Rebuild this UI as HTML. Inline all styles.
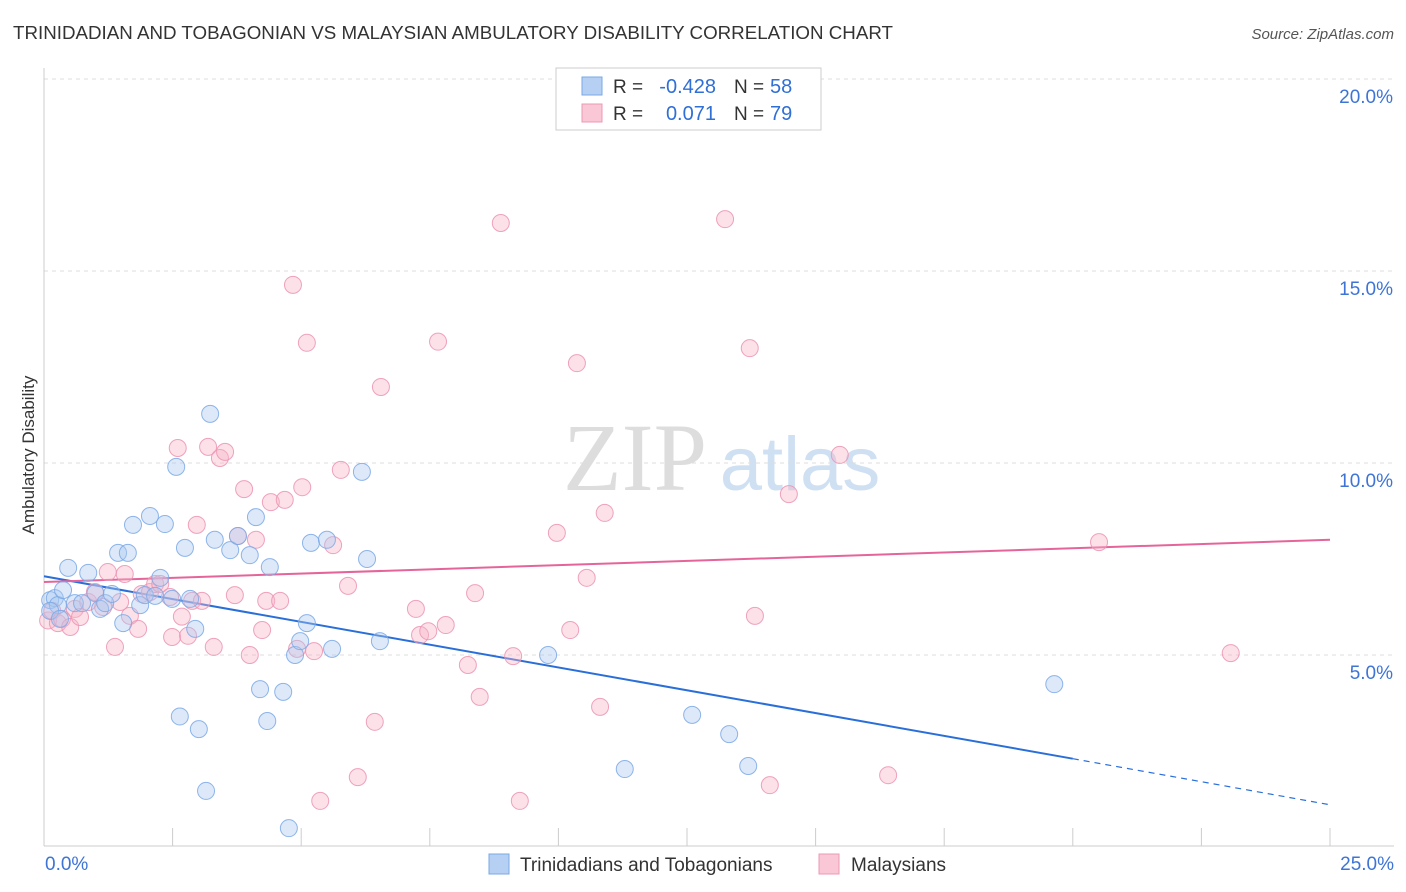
<!DOCTYPE html>
<html><head><meta charset="utf-8"><style>
body{margin:0;background:#fff;font-family:"Liberation Sans",sans-serif;}
svg{display:block}
</style></head><body>
<svg id="c" width="1406" height="892" xmlns="http://www.w3.org/2000/svg">
<text x="13" y="39" font-size="18" fill="#333" textLength="880" lengthAdjust="spacingAndGlyphs">TRINIDADIAN AND TOBAGONIAN VS MALAYSIAN AMBULATORY DISABILITY CORRELATION CHART</text>
<text x="1394" y="39" font-size="15" fill="#555" font-style="italic" text-anchor="end">Source: ZipAtlas.com</text>
<text x="0" y="0" transform="translate(34,455) rotate(-90)" font-size="17" fill="#333" text-anchor="middle">Ambulatory Disability</text>
<g><text x="635" y="490" font-size="96" fill="#ddd" font-family="Liberation Serif,serif" text-anchor="middle">ZIP</text><text x="800" y="490" font-size="76" fill="#cfe0f3" text-anchor="middle">atlas</text></g>
<g id="grid"></g><g id="axes"></g><g id="lines"></g><g id="pts"></g>
<g>
<rect x="556" y="68" width="265" height="62" fill="#fff" stroke="#ccc"/>
<rect x="582" y="77" width="20" height="18" fill="#b5d0f3" stroke="#7aa7e3"/>
<rect x="582" y="104" width="20" height="18" fill="#f9c7d6" stroke="#ec9ab4"/>
<text x="613" y="93" font-size="19" fill="#333">R =</text>
<text x="716" y="93" font-size="20" fill="#2f6fd6" text-anchor="end">-0.428</text>
<text x="734" y="93" font-size="19" fill="#333">N =</text>
<text x="770" y="93" font-size="20" fill="#2f6fd6">58</text>
<text x="613" y="120" font-size="19" fill="#333">R =</text>
<text x="716" y="120" font-size="20" fill="#2f6fd6" text-anchor="end">0.071</text>
<text x="734" y="120" font-size="19" fill="#333">N =</text>
<text x="770" y="120" font-size="20" fill="#2f6fd6">79</text>
</g>
<g>
<rect x="489" y="854" width="20" height="20" fill="#b5d0f3" stroke="#7aa7e3"/>
<text x="520" y="871" font-size="19" fill="#333">Trinidadians and Tobagonians</text>
<rect x="819" y="854" width="20" height="20" fill="#f9c7d6" stroke="#ec9ab4"/>
<text x="851" y="871" font-size="19" fill="#333">Malaysians</text>
</g>
</svg>
<script>
const yTicks=[5,10,15,20];
const yTickLabels=["5.0%","10.0%","15.0%","20.0%"];
const xTickLabels=["0.0%","25.0%"];
const blueX=[0.12,0.21,0.27,0.37,0.47,0.6,0.74,0.86,1,1.09,1.19,1.32,1.44,1.54,1.63,1.73,1.87,1.96,2.06,2.16,2.26,2.35,2.49,2.57,2.64,2.74,2.84,2.94,3.01,3.15,3.23,3.32,3.62,3.77,4.0,4.12,4.2,4.34,4.39,4.65,4.76,4.88,4.98,5.11,5.19,5.5,5.6,6.18,6.28,6.53,9.8,11.29,12.6,13.32,13.69,19.64,0.12,0.31];
const blueY=[6.43,6.48,6.3,6.69,7.27,6.35,6.35,7.14,6.61,6.2,6.35,6.59,7.66,5.83,7.66,8.39,6.3,6.56,8.62,6.54,7.01,8.41,6.46,9.9,3.4,7.79,6.46,5.68,3.07,1.46,11.28,8.0,7.73,8.1,7.6,8.59,4.11,3.28,7.29,4.04,0.49,5.0,5.36,5.83,7.92,8.0,5.16,9.77,7.5,5.36,5.0,2.03,3.44,2.94,2.11,4.24,6.15,5.94];
const pinkX=[0.08,0.16,0.27,0.35,0.51,0.6,0.7,0.86,0.99,1.15,1.24,1.38,1.48,1.57,1.67,1.83,1.9,2.06,2.16,2.26,2.45,2.49,2.6,2.68,2.8,2.88,2.97,3.07,3.19,3.3,3.42,3.52,3.71,3.77,3.89,4.0,4.12,4.24,4.32,4.41,4.59,4.68,4.84,4.92,5.02,5.11,5.25,5.62,5.77,5.91,6.1,6.43,6.55,7.23,7.31,7.47,7.66,7.81,8.24,8.38,8.47,8.88,9.12,9.25,9.97,10.23,10.36,10.55,10.81,10.9,13.24,13.72,13.82,14.11,14.48,15.47,16.41,20.51,23.07,5.37];
const pinkY=[5.9,6.15,5.83,5.94,5.73,6.2,5.99,6.38,6.64,6.25,7.16,5.21,6.38,7.11,6.02,5.68,6.59,6.64,6.85,6.85,6.51,5.47,10.39,6.0,5.5,6.41,8.39,6.41,10.42,5.21,10.13,10.29,6.56,8.1,9.32,5.0,8.0,5.65,6.41,8.98,6.41,9.04,14.64,5.16,9.37,13.13,5.1,7.86,9.82,6.8,1.82,3.26,11.98,6.2,5.52,5.62,13.16,5.78,4.74,6.61,3.91,16.25,4.97,1.2,8.18,5.65,12.6,7.01,3.65,8.7,16.35,12.99,6.02,1.61,9.19,10.21,1.87,7.94,5.05,1.2];
const blueTrend=[[0,7.05],[20,2.3],[25,1.1]];
const pinkTrend=[[0,6.9],[25,8.0]];
const ns="http://www.w3.org/2000/svg";
const X=v=>44+v*51.44, Y=v=>847-v*38.4;
function mk(t,a,p){const e=document.createElementNS(ns,t);for(const k in a)e.setAttribute(k,a[k]);p.appendChild(e);return e;}
const grid=document.getElementById('grid'),axes=document.getElementById('axes'),lines=document.getElementById('lines'),pts=document.getElementById('pts');
yTicks.forEach((t,i)=>{
 const l=mk('line',{x1:44,x2:1394,y1:Y(t),y2:Y(t),stroke:'#ddd','stroke-dasharray':'4,4'},grid);
 
 
 const tx=mk('text',{x:1393,y:Y(t)+24,'font-size':19,fill:'#3d74d6','text-anchor':'end'},axes);tx.textContent=yTickLabels[i];
 
 
});
mk('line',{x1:44,x2:44,y1:68,y2:846,stroke:'#ccc'},axes);
mk('line',{x1:44,x2:1394,y1:846,y2:846,stroke:'#ccc'},axes);
for(let i=0;i<=10;i++){const x=X(i*2.5);mk('line',{x1:x,x2:x,y1:828,y2:846,stroke:'#ccc'},axes);}
const xl0=mk('text',{x:45,y:870,'font-size':19,fill:'#3d74d6'},axes);xl0.textContent=xTickLabels[0];


const xl1=mk('text',{x:1394,y:870,'font-size':19,fill:'#3d74d6','text-anchor':'end'},axes);xl1.textContent=xTickLabels[1];


function dots(xs,ys,fill,stroke,name){xs.forEach((v,i)=>{const c=mk('circle',{cx:X(v),cy:Y(ys[i]),r:8.5,fill:fill,'fill-opacity':0.4,stroke:stroke,'stroke-width':1,'stroke-opacity':0.85},pts);
 
 });}
dots(pinkX,pinkY,'#f7b3c9','#ec93b1','malaysian-point');
dots(blueX,blueY,'#a9c8f1','#7aa8e6','trinidadian-point');
const b1=mk('line',{x1:X(blueTrend[0][0]),y1:Y(blueTrend[0][1]),x2:X(blueTrend[1][0]),y2:Y(blueTrend[1][1]),stroke:'#2a6fd8','stroke-width':2},lines);


const b2=mk('line',{x1:X(blueTrend[1][0]),y1:Y(blueTrend[1][1]),x2:X(blueTrend[2][0]),y2:Y(blueTrend[2][1]),stroke:'#2a6fd8','stroke-width':1.2,'stroke-dasharray':'6,5'},lines);


const p1=mk('line',{x1:X(pinkTrend[0][0]),y1:Y(pinkTrend[0][1]),x2:X(pinkTrend[1][0]),y2:Y(pinkTrend[1][1]),stroke:'#e5659a','stroke-width':2},lines);


</script>
</body></html>
